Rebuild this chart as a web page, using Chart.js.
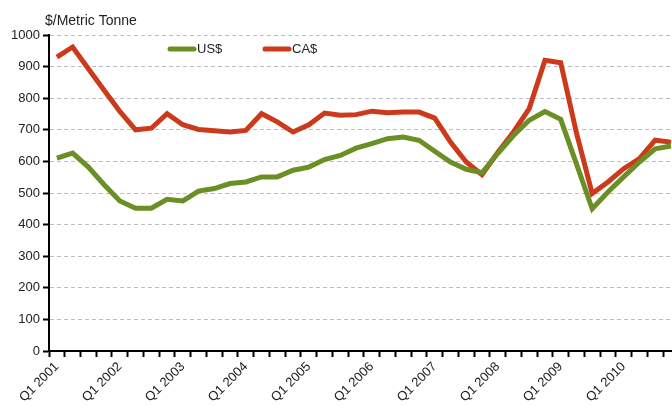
<!DOCTYPE html>
<html>
<head>
<meta charset="utf-8">
<script src="https://cdn.jsdelivr.net/npm/chart.js@4.4.1/dist/chart.umd.min.js"></script>
<style>
  html, body { margin:0; padding:0; background:#fff; overflow:hidden; }
  #wrap { width:684px; height:406px; }
</style>
</head>
<body>
<div id="wrap"><canvas id="priceChart" width="684" height="406"></canvas></div>
<script>
/* ── Data: quarterly price, $/metric tonne ── */
const YEARS = [2001,2002,2003,2004,2005,2006,2007,2008,2009,2010];
const QUARTERS = YEARS.flatMap(y => ['Q1','Q2','Q3','Q4'].map(q => q + ' ' + y));

const US_PRICE = [610,626,582,526,475,452,452,480,475,506,514,530,535,551,551,572,
                  582,606,619,642,656,672,677,667,632,598,575,564,625,682,730,758,
                  733,592,450,503,551,598,640,649];
const CA_PRICE = [930,962,893,825,758,700,705,751,716,701,697,693,698,751,725,693,
                  716,753,746,748,759,754,756,756,737,661,598,558,628,693,767,920,
                  912,690,498,535,577,609,667,661];

const Y_TICKS = { min:0, max:1000, step:100 };
const GREEN = '#6a8f25';
const RED   = '#cc3a1c';
const GRID  = '#bcbccb';
const FONT  = 'Arial, "Liberation Sans", sans-serif';

/* ── Title + in-plot legend ── */
const overlay = {
  id:'overlay',
  afterDatasetsDraw(chart) {
    const c = chart.ctx;
    c.save();
    c.fillStyle = '#222';
    c.font = '14px ' + FONT;
    c.textBaseline = 'middle';
    c.fillText('$/Metric Tonne', 45, 21);
    const items = [{ label:'US$', color:GREEN, x:168 }, { label:'CA$', color:RED, x:263 }];
    items.forEach(it => {
      c.strokeStyle = it.color;
      c.lineWidth = 5;
      c.lineCap = 'round';
      c.beginPath(); c.moveTo(it.x + 2, 49); c.lineTo(it.x + 26, 49); c.stroke();
      c.fillStyle = '#222';
      c.font = '13px ' + FONT;
      c.fillText(it.label, it.x + 29, 49);
    });
    c.restore();
  }
};

new Chart(document.getElementById('priceChart'), {
  type:'line',
  data:{
    labels: QUARTERS,
    datasets:[
      { label:'US$', data:US_PRICE, borderColor:GREEN, borderWidth:5, pointRadius:0, tension:0, fill:false },
      { label:'CA$', data:CA_PRICE, borderColor:RED,   borderWidth:5, pointRadius:0, tension:0, fill:false }
    ]
  },
  options:{
    responsive:false,
    animation:false,
    layout:{ padding:{ top:35, right:4, left:0, bottom:0 } },
    plugins:{ legend:{ display:false }, tooltip:{ enabled:false } },
    scales:{
      x:{
        offset:true,
        grid:{ offset:true, drawOnChartArea:false, drawTicks:true, tickLength:6, tickColor:'#000', tickWidth:2 },
        border:{ display:true, color:'#000', width:2 },
        ticks:{
          autoSkip:false, maxRotation:45, minRotation:45, padding:2,
          color:'#222', font:{ family:FONT, size:13 },
          callback(v, i) { return i % 4 === 0 ? QUARTERS[i] : ''; }
        },
        afterFit(s) { s.height = 55; }
      },
      y:{
        min:Y_TICKS.min, max:Y_TICKS.max,
        grid:{ color:GRID, lineWidth:1, tickLength:6, tickColor:'#000', tickWidth:2, tickBorderDash:[] },
        border:{ display:true, color:'#000', width:2, dash:[4,3] },
        ticks:{ stepSize:Y_TICKS.step, padding:3, color:'#222', font:{ family:FONT, size:13 },
                callback(v) { return String(v); } },
        afterFit(s) { s.width = 49; }
      }
    }
  },
  plugins:[overlay]
});
</script>
</body>
</html>
